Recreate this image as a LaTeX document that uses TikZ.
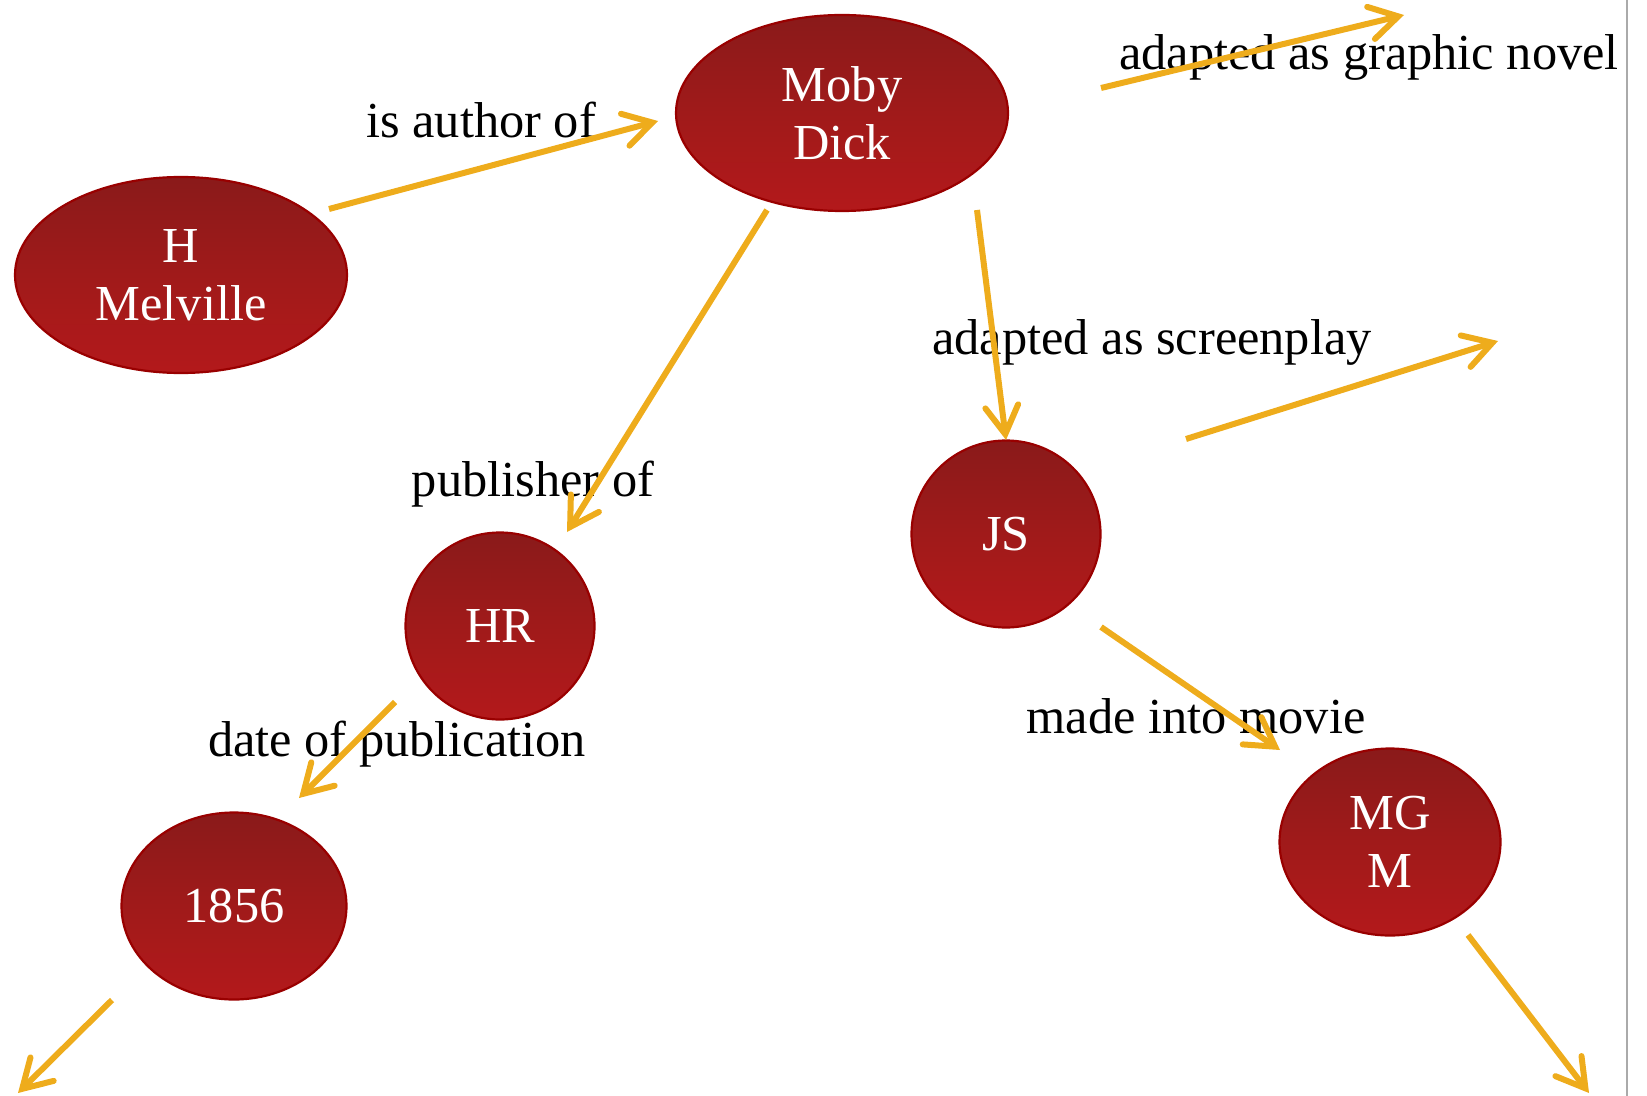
\documentclass[tikz,border=0pt]{standalone}
\usepackage{fontspec}
\setmainfont{Liberation Serif}
\usetikzlibrary{arrows.meta,shapes.geometric}
\definecolor{nodetop}{HTML}{8A1A1A}
\definecolor{nodemid}{HTML}{A01A1A}
\definecolor{nodebot}{HTML}{B3191B}
\definecolor{nodeborder}{HTML}{990000}
\definecolor{arrowc}{HTML}{EEAC1C}
\definecolor{edgegray}{HTML}{AAAAAA}
\tikzset{
  concept/.style={ellipse, draw=nodeborder, line width=1.1pt,
    top color=nodetop, bottom color=nodebot, middle color=nodemid,
    text=white, align=center, inner sep=0pt,
    font=\fontsize{25.2}{29}\selectfont},
  rel/.style={draw=arrowc, line width=3pt,
    -{Straight Barb[length=14pt,width=16.5pt,line cap=round]}},
  lbl/.style={anchor=base, inner sep=0pt, font=\fontsize{25.2}{29}\selectfont}
}
\begin{document}
\begin{tikzpicture}[x=0.5pt,y=-0.5pt]
\useasboundingbox (0,0) rectangle (1647,1096);
% right page edge
\draw[edgegray, line width=1pt] (1627,0) -- (1627,1096);

% concept nodes
\node[concept, minimum width=166pt, minimum height=98pt] (moby) at (842,113) {Moby\\Dick};
\node[concept, minimum width=166pt, minimum height=98pt] (mel) at (181,275) {H\\Melville};
\node[concept, minimum width=94.5pt, minimum height=93.5pt] (hr) at (500,626) {HR};
\node[concept, minimum width=94.5pt, minimum height=93.5pt] (js) at (1006,534) {JS};
\node[concept, minimum width=112.5pt, minimum height=93.5pt] (y1856) at (234,906) {1856};
\node[concept, minimum width=110.5pt, minimum height=93.5pt] (mgm) at (1390,842) {MG\\M};

% connector end points
\coordinate (a1s) at (329,209);  \coordinate (a1e) at (658,121);
\coordinate (a2s) at (767,210);  \coordinate (a2e) at (567,532);
\coordinate (a3s) at (977,210);  \coordinate (a3e) at (1006,440);
\coordinate (a4s) at (1101,88);  \coordinate (a4e) at (1404,15);
\coordinate (a5s) at (1186,439); \coordinate (a5e) at (1498,341);
\coordinate (a6s) at (395,702);  \coordinate (a6e) at (299,798);
\coordinate (a7s) at (1101,627); \coordinate (a7e) at (1280,750);
\coordinate (a8s) at (112,1000); \coordinate (a8e) at (18,1093);
\coordinate (a9s) at (1468,935); \coordinate (a9e) at (1589,1093);

% labels
\node[lbl] (l1) at (481,138) {is author of};
\node[lbl] (l2) at (533,496) {publisher of};
\node[lbl] (l3) at (1152,355) {adapted as screenplay};
\node[lbl] (l4) at (1369,70) {adapted as graphic novel};
\node[lbl] (l6) at (397,756) {date of publication};
\node[lbl] (l7) at (1196,733) {made into movie};

% connectors
\draw[rel] (a1s) -- (a1e);
\draw[rel] (a2s) -- (a2e);
\draw[rel] (a3s) -- (a3e);
\draw[rel] (a4s) -- (a4e);
\draw[rel] (a5s) -- (a5e);
\draw[rel] (a6s) -- (a6e);
\draw[rel] (a7s) -- (a7e);
\draw[rel] (a8s) -- (a8e);
\draw[rel] (a9s) -- (a9e);
\end{tikzpicture}
\end{document}
